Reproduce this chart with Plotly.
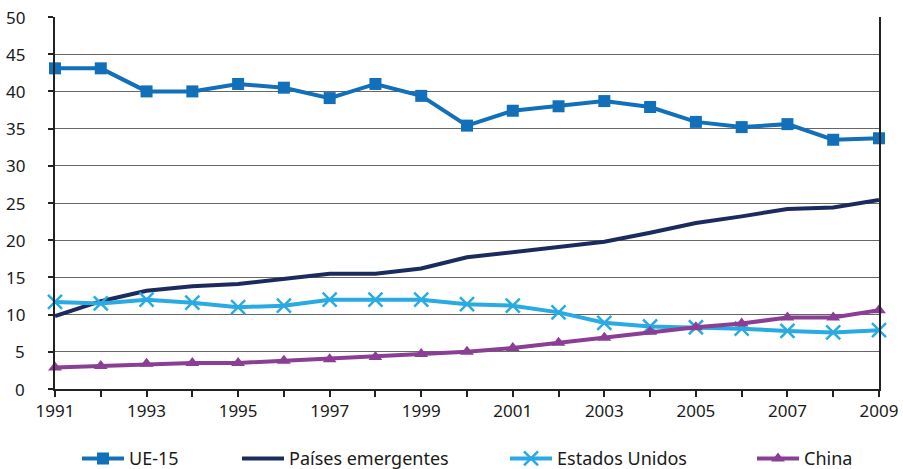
import plotly.graph_objects as go

years = list(range(1991, 2010))
ue15 = [43.1, 43.1, 40.0, 40.0, 41.0, 40.5, 39.1, 41.0, 39.4, 35.4,
        37.4, 38.0, 38.7, 37.9, 35.9, 35.2, 35.6, 33.5, 33.7]
emergentes = [9.8, 11.8, 13.2, 13.8, 14.1, 14.8, 15.5, 15.5, 16.2, 17.7,
              18.4, 19.1, 19.8, 21.0, 22.3, 23.2, 24.2, 24.4, 25.4]
eeuu = [11.7, 11.5, 12.0, 11.6, 11.0, 11.2, 12.0, 12.0, 12.0, 11.4,
        11.2, 10.3, 8.9, 8.4, 8.3, 8.1, 7.8, 7.6, 7.9]
china = [2.9, 3.1, 3.4, 3.5, 3.5, 3.8, 4.0, 4.3, 4.7, 5.0,
         5.5, 6.2, 6.9, 7.7, 8.3, 8.8, 9.6, 9.6, 10.6]

y_ticks = list(range(0, 51, 5))
x_labels = [str(y) if y % 2 == 1 else "" for y in years]

FONT = "Noto Sans"
TEXT = "#1a1a1a"

fig = go.Figure()
fig.add_trace(go.Scatter(
    x=years, y=ue15, name="UE-15", mode="lines+markers",
    line=dict(color="#1170b9", width=4),
    marker=dict(symbol="square", size=12, color="#1170b9"),
    cliponaxis=False, legend="legend"))
fig.add_trace(go.Scatter(
    x=years, y=emergentes, name="Países emergentes", mode="lines",
    line=dict(color="#1c2b5e", width=4),
    cliponaxis=False, legend="legend2"))
fig.add_trace(go.Scatter(
    x=years, y=eeuu, name="Estados Unidos", mode="lines+markers",
    line=dict(color="#2aaae2", width=4),
    marker=dict(symbol="x-thin-open", size=14, color="#2aaae2",
                line=dict(color="#2aaae2", width=2.5)),
    cliponaxis=False, legend="legend3"))
fig.add_trace(go.Scatter(
    x=years, y=china, name="China", mode="lines+markers",
    line=dict(color="#8a3f94", width=4),
    marker=dict(symbol="triangle-up", size=12, color="#8a3f94"),
    cliponaxis=False, legend="legend4"))

# one legend box per series, spread along the bottom of the figure
legend_style = dict(orientation="h", yref="container", yanchor="middle", y=0.022,
                    xref="container", xanchor="left",
                    font=dict(family=FONT, size=18, color=TEXT),
                    bgcolor="rgba(0,0,0,0)", itemwidth=42)
fig.update_layout(
    showlegend=True,
    legend=dict(x=77 / 903, **legend_style),
    legend2=dict(x=237 / 903, **legend_style),
    legend3=dict(x=505 / 903, **legend_style),
    legend4=dict(x=752 / 903, **legend_style),
)

# y tick labels set further out from the axis than the default spacing
for v in y_ticks:
    fig.add_annotation(x=-28 / 824, xref="paper", xanchor="right",
                       y=v, yref="y", yanchor="middle",
                       text=str(v), showarrow=False,
                       font=dict(family=FONT, size=17, color=TEXT))

fig.update_layout(
    width=903, height=469,
    margin=dict(l=55, r=24, t=17, b=80, autoexpand=False),
    paper_bgcolor="white", plot_bgcolor="white",
    font=dict(family=FONT, size=17, color=TEXT),
    xaxis=dict(range=[1991, 2009], tickmode="array", tickvals=years,
               ticktext=x_labels, ticks="outside", ticklen=6, tickwidth=1.5,
               tickcolor="#222", showline=True, linecolor="#222", linewidth=1.5,
               showgrid=False, zeroline=False, tickfont=dict(size=17)),
    yaxis=dict(range=[0, 50], tickmode="array", tickvals=y_ticks,
               ticks="outside", ticklen=5, tickwidth=1.5, tickcolor="#222",
               showticklabels=False,
               showline=True, linecolor="#222", linewidth=1.5, mirror=True,
               showgrid=True, gridcolor="#666", gridwidth=1.4,
               zeroline=False),
)

fig.write_html("out.html")
